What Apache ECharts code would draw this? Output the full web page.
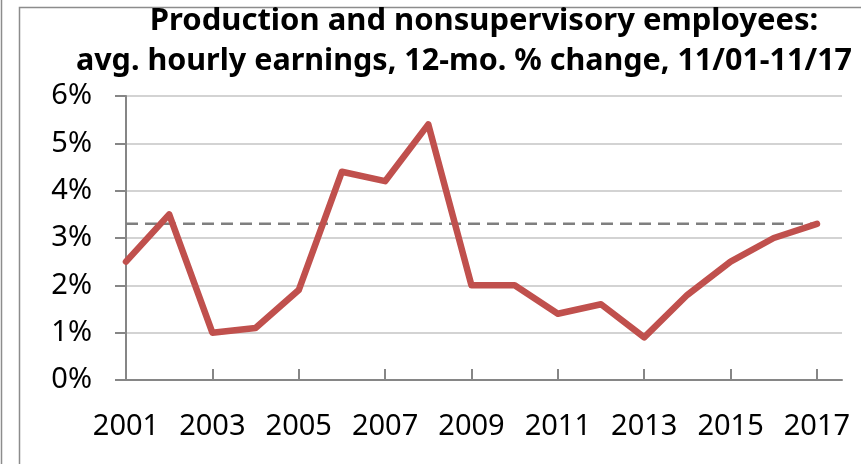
<!DOCTYPE html>
<html><head><meta charset="utf-8">
<script src="https://cdn.jsdelivr.net/npm/echarts@6/dist/echarts.min.js"></script>
<style>html,body{margin:0;padding:0;background:#fff}#c{width:861px;height:464px}</style>
</head><body><div id="c"></div>
<script>
const titleLine1 = 'Production and nonsupervisory employees:';
const titleLine2 = 'avg. hourly earnings, 12-mo. % change, 11/01-11/17';
const years = [2001,2002,2003,2004,2005,2006,2007,2008,2009,2010,2011,2012,2013,2014,2015,2016,2017];
const pctChange = [2.5,3.5,1.0,1.1,1.9,4.4,4.2,5.4,2.0,2.0,1.4,1.6,0.9,1.8,2.5,3.0,3.3];
const refYears = [2001, 2017];
const refValues = [3.3, 3.3];
const xTickYears = [2001,2003,2005,2007,2009,2011,2013,2015,2017];
const yTicks = [0,1,2,3,4,5,6];

const FONT = 'Noto Sans';
const chart = echarts.init(document.getElementById('c'), null, {renderer:'canvas'});
chart.setOption({
  animation:false,
  backgroundColor:'#fff',
  title:[
    {text:titleLine1, left:479, top:1, textAlign:'center',
     textStyle:{fontFamily:FONT, fontWeight:'bold', fontSize:31, color:'#000'}},
    {text:titleLine2, left:459, top:41, textAlign:'center',
     textStyle:{fontFamily:FONT, fontWeight:'bold', fontSize:30.5, color:'#000'}}
  ],
  graphic:[
    {type:'rect', shape:{x:19.5, y:7.5, width:900, height:500}, style:{fill:null, stroke:'#8c8c8c', lineWidth:1.5}, silent:true},
    {type:'line', shape:{x1:1.5, y1:0, x2:1.5, y2:464}, style:{stroke:'#8c8c8c', lineWidth:1.5}, silent:true}
  ],
  grid:{left:126, right:19, top:96, bottom:84, containLabel:false},
  xAxis:{
    type:'value', min:2001, max:2017.58, interval:2,
    splitLine:{show:false},
    axisLine:{show:true, onZero:false, lineStyle:{color:'#868686', width:2}},
    axisTick:{show:true, inside:true, length:11, customValues:xTickYears, lineStyle:{color:'#868686', width:2}},
    axisLabel:{customValues:xTickYears, margin:32, fontFamily:FONT, fontSize:29, color:'#000', formatter:v=>String(v)}
  },
  yAxis:{
    type:'value', min:0, max:6, interval:1,
    axisLine:{show:true, lineStyle:{color:'#868686', width:2}},
    axisTick:{show:true, length:11, lineStyle:{color:'#868686', width:2}},
    splitLine:{show:true, lineStyle:{color:'#c4c4c4', width:1.5}},
    axisLabel:{margin:34, fontFamily:FONT, fontSize:29, color:'#000', formatter:v=>v+'%'}
  },
  series:[
    {type:'line', data:refYears.map((y,i)=>[y,refValues[i]]), showSymbol:false, z:2,
     lineStyle:{color:'#7f7f7f', width:2.5, type:[12,7]}},
    {type:'line', data:years.map((y,i)=>[y,pctChange[i]]), showSymbol:false, z:3,
     lineStyle:{color:'#c0504d', width:6.5, cap:'round', join:'round'}}
  ]
});
</script></body></html>
